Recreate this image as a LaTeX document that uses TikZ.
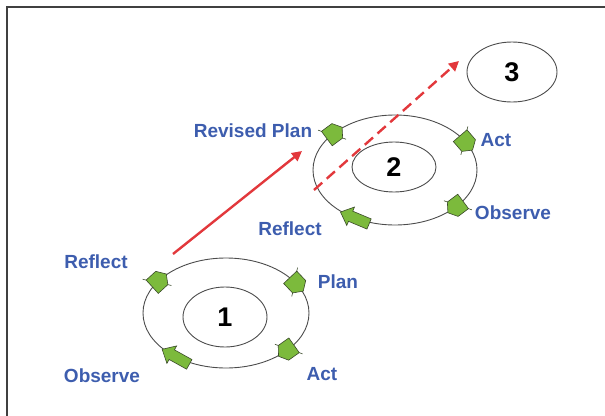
\documentclass[tikz,border=0pt]{standalone}
\usepackage{fontspec}
\setmainfont{Liberation Sans}
\usetikzlibrary{shapes.geometric,arrows.meta,calc}
\definecolor{lblblue}{HTML}{3D5DAE}
\definecolor{mkgreen}{HTML}{7CBA3C}
\definecolor{mkedge}{HTML}{3A4A2A}
\definecolor{arrred}{HTML}{E2383C}
\newcommand\cyclemark[5]{%
  \pic[rotate={-atan2(#4*cos(#2),-#3*sin(#2))}] at ([shift={(#2:#3 and #4)}]#1.center) {#5};}
\tikzset{
  ring/.style={ellipse, draw=black!70, line width=0.9pt, inner sep=0pt},
  numtxt/.style={font=\bfseries\fontsize{27}{27}\selectfont},
  lbl/.style={text=lblblue, font=\bfseries\fontsize{19}{19}\selectfont, inner sep=0pt},
  redarrow/.style={draw=arrred, line width=2.4pt, -{Triangle[length=10pt,width=10pt]}},
  sqmark/.pic={\path[fill=mkgreen, draw=mkedge, line width=0.6pt]
     (-9,-9) -- (4,-9) -- (10,0) -- (4,9) -- (-9,9) -- cycle;
     \draw[mkedge, line width=0.6pt] (-9,-9) -- (-11,-12) (4,9) -- (6,12);},
  longmark/.pic={\path[fill=mkgreen, draw=mkedge, line width=0.6pt]
     (-19,-5.5) -- (1,-5.5) -- (1,-10) -- (12,0) -- (1,10) -- (1,5.5) -- (-19,5.5) -- cycle;},
}
\begin{document}
\begin{tikzpicture}[x=1pt,y=-1pt]
\useasboundingbox (0,0) rectangle (605,415);
\draw[line width=1.6pt, draw=black!75] (7,7) rectangle (660,470);

% cycle 1
\node[ring, minimum width=166pt, minimum height=110pt] (e1) at (226,313) {};
\node[ring, numtxt, minimum width=84pt, minimum height=60pt] (c1) at (225,317) {1};
% cycle 2
\node[ring, minimum width=164pt, minimum height=110pt] (e2) at (395,170) {};
\node[ring, numtxt, minimum width=84pt, minimum height=50pt] (c2) at (394,167) {2};
% cycle 3
\node[ring, numtxt, minimum width=90pt, minimum height=60pt] (c3) at (512,72) {3};

% markers cycle 1
\cyclemark{e1}{216}{83}{55}{sqmark}
\cyclemark{e1}{328}{83}{55}{sqmark}
\cyclemark{e1}{43}{83}{55}{sqmark}
\cyclemark{e1}{130}{83}{55}{longmark}
% markers cycle 2
\cyclemark{e2}{222}{82}{55}{sqmark}
\cyclemark{e2}{330}{82}{55}{sqmark}
\cyclemark{e2}{42}{82}{55}{sqmark}
\cyclemark{e2}{122}{82}{55}{longmark}

% labels
\node[lbl] (r1) at (96,262) {Reflect};
\node[lbl] (p1) at (338,282) {Plan};
\node[lbl] (a1) at (322,374) {Act};
\node[lbl] (o1) at (102,376) {Observe};
\node[lbl] (rp2) at (253,131) {Revised Plan};
\node[lbl] (a2) at (496,140) {Act};
\node[lbl] (o2) at (513,213) {Observe};
\node[lbl] (r2) at (290,229) {Reflect};

% red arrows
\coordinate (s1) at (173,254);
\coordinate (t1) at (302,151);
\coordinate (s2) at (314,190);
\coordinate (t2) at (459,61);
\draw[redarrow] (s1) -- (t1);
\draw[redarrow, dash pattern=on 11pt off 6pt] (s2) -- (t2);
\end{tikzpicture}
\end{document}
